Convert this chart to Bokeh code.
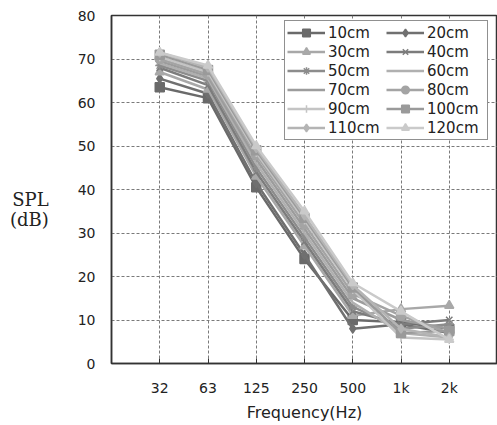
from bokeh.plotting import figure
from bokeh.models import FactorRange, Range1d, FixedTicker
from bokeh.embed import file_html
from bokeh.resources import INLINE

freqs = ["32", "63", "125", "250", "500", "1k", "2k"]
series_names = ["10cm", "20cm", "30cm", "40cm", "50cm", "60cm",
                "70cm", "80cm", "90cm", "100cm", "110cm", "120cm"]
spl_10 = [63.5, 61.0, 40.5, 24.0, 10.0, 9.5, 8.0]
spl_20 = [65.5, 62.0, 41.5, 25.0, 8.0, 9.0, 7.0]
spl_30 = [67.0, 63.0, 43.0, 27.0, 11.0, 12.5, 13.3]
spl_40 = [68.0, 64.0, 44.0, 28.0, 12.0, 9.0, 10.0]
spl_50 = [68.5, 65.0, 45.0, 29.0, 13.0, 8.0, 9.0]
spl_60 = [69.0, 65.5, 46.0, 30.0, 14.0, 7.0, 6.0]
spl_70 = [69.5, 66.0, 47.0, 31.0, 15.0, 10.0, 8.0]
spl_80 = [70.0, 66.5, 48.0, 32.0, 16.0, 11.0, 7.0]
spl_90 = [70.5, 67.0, 48.5, 33.0, 17.0, 6.0, 5.5]
spl_100 = [71.0, 67.5, 49.0, 33.5, 17.5, 7.0, 7.5]
spl_110 = [71.5, 68.0, 49.5, 34.0, 18.0, 8.0, 6.0]
spl_120 = [71.5, 68.5, 50.0, 35.0, 18.5, 12.0, 5.5]
all_series = [spl_10, spl_20, spl_30, spl_40, spl_50, spl_60,
              spl_70, spl_80, spl_90, spl_100, spl_110, spl_120]

colors = ["#6a6a6a", "#707070", "#a8a8a8", "#7c7c7c", "#8c8c8c", "#b0b0b0",
          "#9c9c9c", "#a4a4a4", "#c4c4c4", "#9a9a9a", "#b4b4b4", "#cacaca"]
markers = ["square", "diamond", "triangle", "x", "asterisk", None,
           "dash", "circle", "cross", "square", "diamond", "triangle"]

p = figure(width=497, height=425, output_backend="svg", toolbar_location=None,
           x_range=FactorRange(factors=freqs, range_padding=0.5,
                               range_padding_units="absolute"),
           y_range=Range1d(0, 80),
           min_border_left=111, min_border_right=0, min_border_top=15,
           min_border_bottom=62)

p.outline_line_color = "#333333"
p.outline_line_width = 1.5
p.background_fill_color = "white"
p.border_fill_color = "white"

for name, vals, col, mk in zip(series_names, all_series, colors, markers):
    p.line(freqs, vals, line_color=col, line_width=2.5, legend_label=name)
    if mk is not None:
        p.scatter(freqs, vals, marker=mk, size=9, fill_color=col, line_color=col,
                  line_width=1.5, legend_label=name)

for g in (p.xgrid, p.ygrid):
    g.grid_line_color = "#7a7a7a"
    g.grid_line_dash = "3 2"
    g.grid_line_width = 1

p.yaxis.ticker = FixedTicker(ticks=[0, 10, 20, 30, 40, 50, 60, 70, 80])
p.yaxis.major_tick_out = 0
p.yaxis.major_tick_in = 0
p.yaxis.minor_tick_out = 0
p.yaxis.minor_tick_in = 0
p.yaxis.major_label_standoff = 16
p.yaxis.axis_label = "\n\nSPL\n(dB)"
p.yaxis.axis_label_orientation = "horizontal"
p.yaxis.axis_label_standoff = 26
p.yaxis.axis_label_text_font = "DejaVu Serif"
p.yaxis.axis_label_text_font_size = "18px"
p.yaxis.axis_label_text_line_height = 0.95
p.yaxis.axis_label_text_font_style = "normal"
p.yaxis.axis_label_text_color = "#222222"
p.yaxis.axis_label_text_align = "left"
p.xaxis.major_tick_out = 0
p.xaxis.major_tick_in = 5
p.xaxis.major_label_standoff = 16
p.xaxis.axis_label = "Frequency(Hz)"
p.xaxis.axis_label_standoff = 4
for ax in (p.xaxis, p.yaxis):
    ax.axis_line_color = "#333333"
    ax.axis_line_width = 1.5
    ax.major_tick_line_color = "#333333"
    ax.major_label_text_font = "DejaVu Sans"
    ax.major_label_text_font_size = "14px"
    ax.major_label_text_color = "#222222"
p.xaxis.axis_label_text_font = "DejaVu Sans"
p.xaxis.axis_label_text_font_size = "16px"
p.xaxis.axis_label_text_font_style = "normal"
p.xaxis.axis_label_text_color = "#222222"

leg = p.legend[0]
items = list(leg.items)
# column-major filling: reorder so rows read 10,20 / 30,40 / ...
leg.items = items[0::2] + items[1::2]
leg.ncols = 2
leg.location = (173, 223)
leg.label_text_font = "DejaVu Sans"
leg.label_text_font_size = "15px"
leg.label_text_color = "#222222"
leg.label_height = 19
leg.glyph_height = 19
leg.glyph_width = 38
leg.label_standoff = 3
leg.label_width = 58
leg.spacing = 0
leg.padding = 2
leg.margin = 0
leg.border_line_color = "#222222"
leg.border_line_width = 1.5
leg.background_fill_alpha = 1.0

open("out.html", "w").write(file_html(p, INLINE))
